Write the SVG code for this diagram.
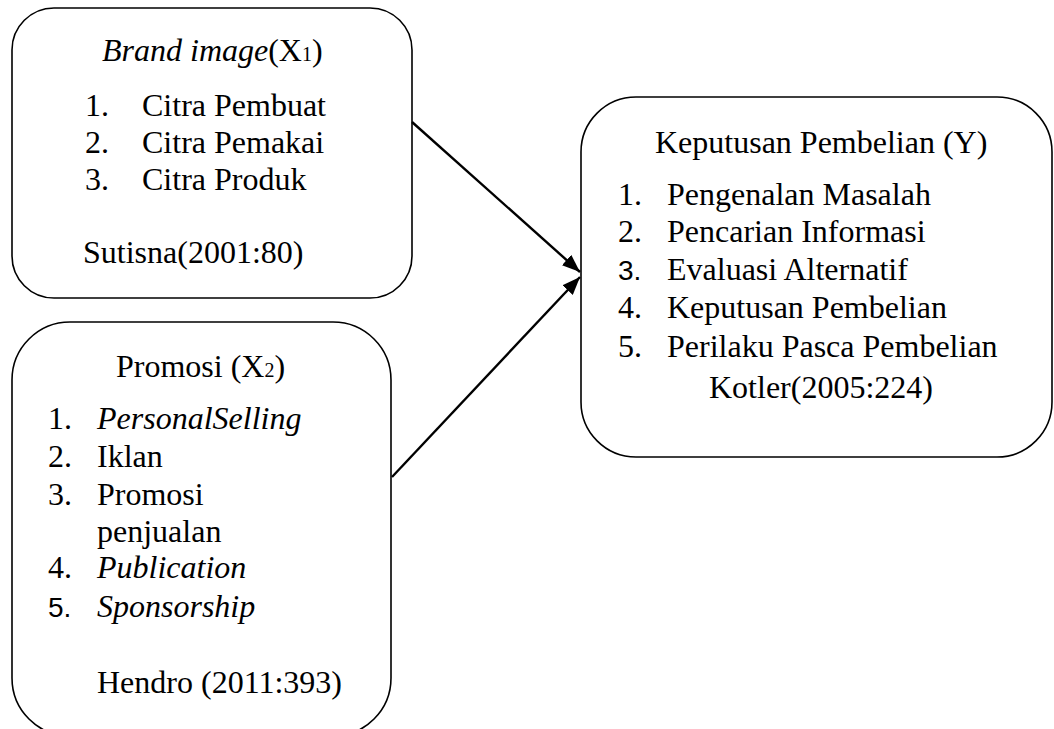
<svg xmlns="http://www.w3.org/2000/svg" width="1054" height="729" viewBox="0 0 1054 729">
<style>
.box{fill:#fff;stroke:#000;stroke-width:1.6}
.t{font-family:"Liberation Serif","Times New Roman",serif;font-size:32px;fill:#000}
.i{font-style:italic}
.s{font-family:"Liberation Sans",Arial,sans-serif;font-size:28px;fill:#000}
.sub{font-size:20px}
.con{stroke:#000;stroke-width:2.4;fill:none;marker-end:url(#ah)}
</style>
<defs>
<marker id="ah" markerUnits="userSpaceOnUse" markerWidth="18" markerHeight="14" refX="18" refY="7" orient="auto">
<path d="M0,0 L18,7 L0,14 z" fill="#000"/>
</marker>
</defs>
<rect width="1054" height="729" fill="#fff"/>
<g id="brand-image">
<rect class="box" x="12" y="8" width="400" height="290" rx="42" ry="42"/>
<text class="t" x="102" y="61"><tspan class="i">Brand image</tspan>(X<tspan class="sub">1</tspan>)</text>
<text class="t" x="85" y="116">1.</text><text class="t" x="142" y="116">Citra Pembuat</text>
<text class="t" x="85" y="153">2.</text><text class="t" x="142" y="153">Citra Pemakai</text>
<text class="t" x="85" y="190">3.</text><text class="t" x="142" y="190">Citra Produk</text>
<text class="t" x="83" y="263">Sutisna(2001:80)</text>
</g>
<g id="promosi">
<rect class="box" x="12" y="322" width="379" height="414" rx="58" ry="58"/>
<text class="t" x="116" y="377">Promosi (X<tspan class="sub">2</tspan>)</text>
<text class="t" x="48" y="429">1.</text><text class="t i" x="97" y="429">PersonalSelling</text>
<text class="t" x="48" y="467">2.</text><text class="t" x="97" y="467">Iklan</text>
<text class="t" x="48" y="505">3.</text><text class="t" x="97" y="505">Promosi</text>
<text class="t" x="97" y="542">penjualan</text>
<text class="t" x="48" y="578">4.</text><text class="t i" x="97" y="578">Publication</text>
<text class="s" x="48" y="617">5.</text><text class="t i" x="97" y="617">Sponsorship</text>
<text class="t" x="97" y="693">Hendro (2011:393)</text>
</g>
<g id="keputusan">
<rect class="box" x="581" y="97" width="471" height="360" rx="55" ry="55"/>
<text class="t" x="655" y="153">Keputusan Pembelian (Y)</text>
<text class="t" x="618" y="205">1.</text><text class="t" x="667" y="205">Pengenalan Masalah</text>
<text class="t" x="618" y="242">2.</text><text class="t" x="667" y="242">Pencarian Informasi</text>
<text class="s" x="618" y="280">3.</text><text class="t" x="667" y="280">Evaluasi Alternatif</text>
<text class="t" x="618" y="318">4.</text><text class="t" x="667" y="318">Keputusan Pembelian</text>
<text class="t" x="618" y="357">5.</text><text class="t" x="667" y="357">Perilaku Pasca Pembelian</text>
<text class="t" x="709" y="398">Kotler(2005:224)</text>
</g>
<g id="connectors">
<line class="con" x1="412" y1="122" x2="580" y2="272"/>
<line class="con" x1="392" y1="477" x2="580" y2="277"/>
</g>
</svg>
